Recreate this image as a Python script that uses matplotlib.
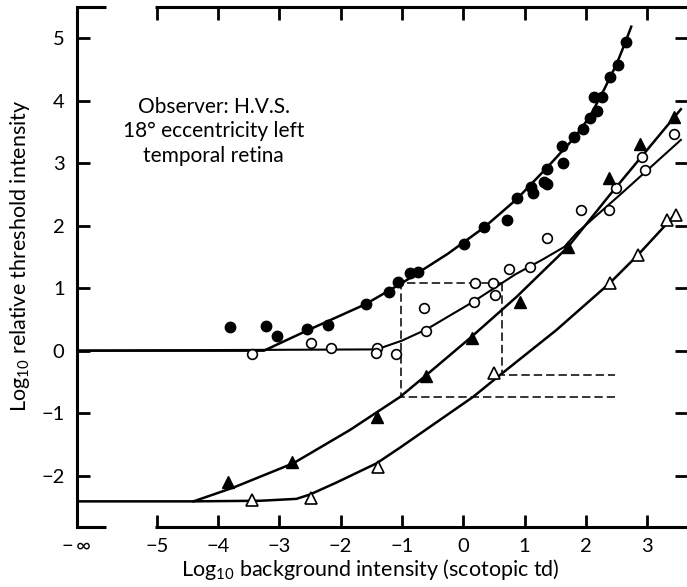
import matplotlib.pyplot as plt

plt.rcParams['font.family'] = ['Lato', 'DejaVu Sans']
plt.rcParams['mathtext.fontset'] = 'custom'
plt.rcParams['mathtext.rm'] = 'Lato'

# Data (log10 background, log10 threshold)
fc_x = [-3.81, -3.22, -3.04, -2.55, -2.20, -1.58, -1.21, -1.06, -0.87, -0.74,
        0.02, 0.34, 0.71, 0.87, 1.10, 1.13, 1.31, 1.37, 1.37, 1.61, 1.62, 1.81,
        1.95, 2.06, 2.18, 2.13, 2.26, 2.39, 2.53, 2.65]
fc_y = [0.38, 0.39, 0.24, 0.34, 0.41, 0.74, 0.94, 1.10, 1.24, 1.26,
        1.70, 1.98, 2.09, 2.44, 2.62, 2.52, 2.69, 2.66, 2.90, 3.27, 3.00, 3.42,
        3.55, 3.72, 3.84, 4.06, 4.05, 4.37, 4.56, 4.94]

oc_x = [-3.44, -2.49, -2.16, -1.41, -1.43, -1.10, -0.64, -0.61, 0.18, 0.19,
        0.49, 0.52, 0.75, 1.09, 1.37, 1.92, 2.38, 2.50, 2.91, 2.96, 3.43]
oc_y = [-0.06, 0.12, 0.05, 0.05, -0.04, -0.06, 0.68, 0.32, 0.77, 1.08,
        1.08, 0.89, 1.30, 1.34, 1.80, 2.25, 2.25, 2.60, 3.10, 2.89, 3.46]

ft_x = [-3.83, -2.80, -1.41, -0.60, 0.14, 0.92, 1.71, 2.37, 2.89, 3.44]
ft_y = [-2.10, -1.78, -1.06, -0.41, 0.21, 0.78, 1.66, 2.76, 3.30, 3.74]

ot_x = [-3.44, -2.49, -1.39, 0.51, 2.39, 2.85, 3.33, 3.47]
ot_y = [-2.39, -2.36, -1.86, -0.35, 1.08, 1.53, 2.09, 2.17]

# fitted curves, nodes
fc_cx = [-6.3, -3.25, -2.55, -1.6, -1.0, -0.25, 0.34, 0.87, 1.36, 1.81, 2.07,
         2.3, 2.5, 2.64, 2.74]
fc_cy = [0.0, 0.0, 0.32, 0.74, 1.08, 1.55, 1.97, 2.42, 2.92, 3.40, 3.75,
         4.18, 4.58, 4.92, 5.18]

oc_cx = [-6.3, -1.41, -1.0, -0.6, 0.16, 0.85, 1.3, 1.65, 1.85, 2.6, 3.55]
oc_cy = [0.0, 0.02, 0.16, 0.34, 0.78, 1.22, 1.46, 1.66, 1.88, 2.53, 3.37]

ft_cx = [-4.40, -3.75, -2.77, -1.85, -1.03, -0.65, 0.11, 0.87, 1.71, 2.39, 3.55]
ft_cy = [-2.41, -2.19, -1.80, -1.27, -0.74, -0.43, 0.20, 0.86, 1.66, 2.49, 3.86]

ot_cx = [-6.3, -4.4, -3.3, -2.72, -2.5, -2.07, -1.41, -1.03, 0.16, 0.60, 1.52,
         2.39, 2.85, 3.33, 3.48]
ot_cy = [-2.41, -2.41, -2.40, -2.37, -2.30, -2.11, -1.80, -1.55, -0.74, -0.39,
         0.33, 1.08, 1.53, 2.04, 2.21]

# dashed construction lines
box_x = [0.64, -1.02, -1.02, 2.47]
box_y = [1.08, 1.08, -0.74, -0.74]
drop_x = [0.64, 0.64, 2.47]
drop_y = [1.08, -0.39, -0.39]

xticks = [-6.3, -5, -4, -3, -2, -1, 0, 1, 2, 3]
xlabels = ['\u2212\u2009\u221e', '\u22125', '\u22124', '\u22123', '\u22122',
           '\u22121', '0', '1', '2', '3']
yticks = [-2, -1, 0, 1, 2, 3, 4, 5]
ylabels = ['\u22122', '\u22121', '0', '1', '2', '3', '4', '5']

fig = plt.figure(figsize=(6.87, 5.87), dpi=100)
ax = fig.add_axes([77 / 687, 60 / 587, 610 / 687, 520.3 / 587])
xmin, xmax = -6.3, 3.65
ymin, ymax = -2.82, 5.50
ax.set_xlim(xmin, xmax)
ax.set_ylim(ymin, ymax)

lw = 1.8
ax.plot(fc_cx, fc_cy, color='black', lw=lw)
ax.plot(oc_cx, oc_cy, color='black', lw=1.5)
ax.plot(ft_cx, ft_cy, color='black', lw=lw)
ax.plot(ot_cx, ot_cy, color='black', lw=lw)

dash = (0, (5.5, 2.6))
ax.plot(box_x, box_y, color='black', lw=1.1, linestyle=dash)
ax.plot(drop_x, drop_y, color='black', lw=1.1, linestyle=dash)

ax.plot(fc_x, fc_y, 'o', color='black', ms=7.5, zorder=3)
ax.plot(oc_x, oc_y, 'o', mfc='white', mec='black', mew=1.2, ms=7, zorder=3)
ax.plot(ft_x, ft_y, '^', color='black', ms=9, zorder=3)
ax.plot(ot_x, ot_y, '^', mfc='white', mec='black', mew=1.2, ms=9, zorder=3)

# axis frame: left spine whole, top and bottom broken between -inf and -5
for s in ['top', 'bottom', 'right']:
    ax.spines[s].set_visible(False)
ax.spines['left'].set_linewidth(2.2)
for yy in [ymin, ymax]:
    ax.plot([xmin, -5.83], [yy, yy], color='black', lw=2.2, clip_on=False,
            solid_capstyle='butt')
    ax.plot([-5.02, xmax], [yy, yy], color='black', lw=2.2, clip_on=False,
            solid_capstyle='butt')

ax.set_xticks(xticks)
ax.set_xticklabels(xlabels)
ax.set_yticks(yticks)
ax.set_yticklabels(ylabels)
ax.tick_params(direction='in', length=9, width=2, top=True, right=True,
               labelsize=14.5)
ax.tick_params(axis='x', pad=8)
ax.tick_params(axis='y', pad=9)

ax.text(-4.07, 3.90, 'Observer: H.V.S.', ha='center', va='center', fontsize=15)
ax.text(-4.07, 3.51, '18\u00b0 eccentricity left', ha='center', va='center',
        fontsize=15)
ax.text(-4.07, 3.12, 'temporal retina', ha='center', va='center', fontsize=15)

fig.text(370 / 687, 1 - 570 / 587, 'Log$_{10}$ background intensity (scotopic td)',
         ha='center', va='center', fontsize=15.5)
fig.text(20 / 687, 1 - 256 / 587, 'Log$_{10}$ relative threshold intensity',
         ha='center', va='center', rotation=90, fontsize=15.5)

fig.savefig('out.png', dpi=100)
